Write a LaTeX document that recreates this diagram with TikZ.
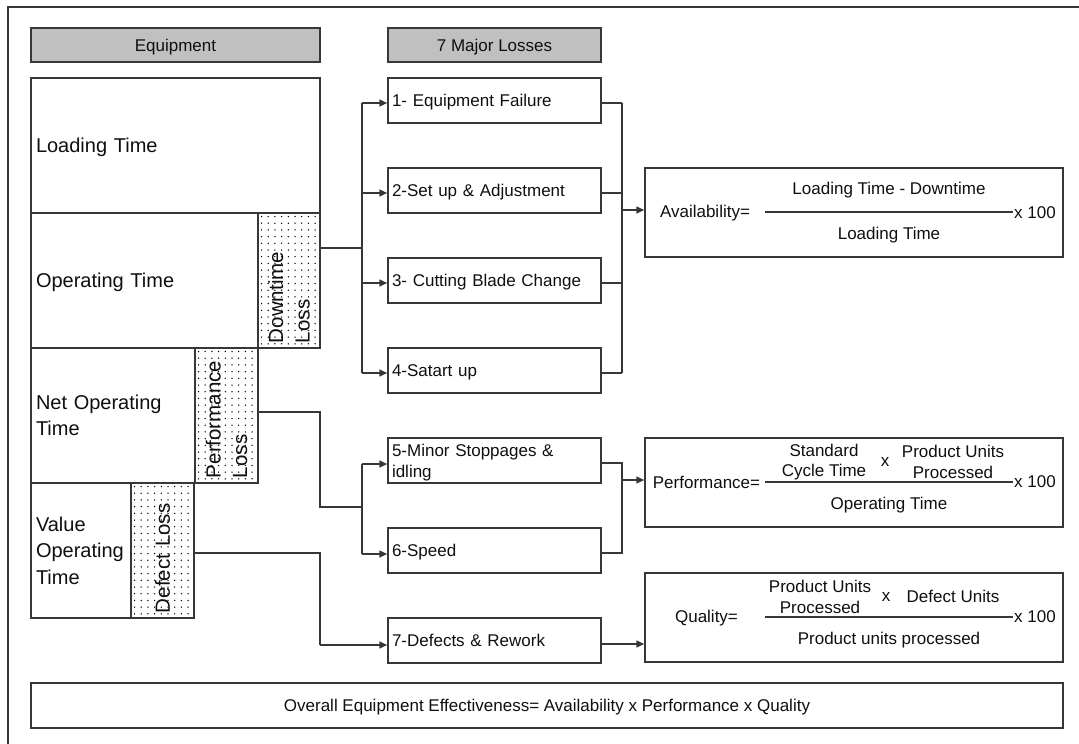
\documentclass[tikz,border=0pt]{standalone}
\usepackage{fontspec}
\setmainfont{Liberation Sans}
\usetikzlibrary{arrows.meta}
\definecolor{ln}{RGB}{55,55,55}
\definecolor{hdr}{RGB}{192,192,192}
\definecolor{txt}{RGB}{15,15,15}
\begin{document}
\begin{tikzpicture}[x=1pt,y=-1pt,
  every node/.style={text=txt},
  box/.style={draw=ln,line width=1.5pt,rectangle,inner xsep=5pt,inner ysep=0pt},
  big/.style={font=\fontsize{20}{26.5}\selectfont},
  small/.style={font=\fontsize{17}{20.5}\selectfont},
  oneline/.style={text depth=0pt},
  hdrbox/.style={box,small,oneline,fill=hdr,minimum height=34pt},
  eqbox/.style={box,big,align=left},
  lossbox/.style={box,small,align=left,inner xsep=4pt,minimum height=45pt,text width=205pt},
  rotbox/.style={box,align=left,rotate=90,inner xsep=5pt,minimum width=135pt,
    font=\fontsize{20.5}{26.5}\selectfont},
  fbox/.style={box,minimum width=418pt,minimum height=89pt},
  ftext/.style={small,align=center,inner sep=0pt},
  conn/.style={draw=ln,line width=1.5pt},
  arr/.style={conn,-{Triangle[length=8pt,width=7pt]}},
  dot/.style={fill=black}
]
\useasboundingbox (0,0) rectangle (1079,744);

% outer frame (only its left and top edges fall on the page)
\draw[conn] (8,744) -- (8,7) -- (1079,7);

% dotted fill of the loss strips
\foreach \x in {261.5,268.2,...,318} \foreach \y in {216.5,223.2,...,346}
  {\fill[dot] (\x,\y) circle (0.75);}
\foreach \x in {198.5,205.2,...,256} \foreach \y in {351.5,358.2,...,481}
  {\fill[dot] (\x,\y) circle (0.75);}
\foreach \x in {134.5,141.2,...,192} \foreach \y in {486.5,493.2,...,616}
  {\fill[dot] (\x,\y) circle (0.75);}

% column headers
\node[hdrbox,minimum width=289pt] (eqh) at (175.5,45) {Equipment};
\node[hdrbox,minimum width=213pt] (mlh) at (494.5,45) {7 Major Losses};

% equipment time blocks
\node[eqbox,oneline,text width=279pt,minimum height=135pt] (lt) at (175.5,145.5) {Loading Time};
\node[eqbox,oneline,text width=217pt,minimum height=135pt] (ot) at (144.5,280.5) {Operating Time};
\node[eqbox,text width=154pt,minimum height=135pt] (nt) at (113,415.5) {Net Operating\\Time};
\node[eqbox,text width=90pt,minimum height=135pt] (vt) at (81,550.5) {Value\\Operating\\Time};

% loss strips
\node[rotbox,text width=125pt,minimum height=62pt] (dt) at (289,280.5) {Downtime\\Loss};
\node[rotbox,text width=125pt,minimum height=63pt] (pl) at (226.5,415.5) {Performance\\Loss};
\node[rotbox,text width=125pt,minimum height=63pt] (dl) at (162.5,550.5) {Defect Loss};

% the seven major losses
\node[lossbox,oneline] (l1) at (494.5,100.5) {1- Equipment Failure};
\node[lossbox,oneline] (l2) at (494.5,190.5) {2-Set up \& Adjustment};
\node[lossbox,oneline] (l3) at (494.5,280.5) {3- Cutting Blade Change};
\node[lossbox,oneline] (l4) at (494.5,370.5) {4-Satart up};
\node[lossbox] (l5) at (494.5,460.5) {\rule{0pt}{17pt}5-Minor Stoppages \&\\idling};
\node[lossbox,oneline] (l6) at (494.5,550.5) {6-Speed};
\node[lossbox,oneline] (l7) at (494.5,640.5) {7-Defects \& Rework};

% formula boxes
\node[fbox] (av) at (854,212.5) {};
\node[fbox] (pf) at (854,482.5) {};
\node[fbox] (ql) at (854,617.5) {};

% availability
\node[ftext] (avlab) at (705,213) {Availability=};
\node[ftext] (avnum) at (889,190) {Loading Time - Downtime};
\node[ftext] (avden) at (889,235) {Loading Time};
\coordinate (avl) at (765,212);
\coordinate (avr) at (1013,212);
\draw[conn,line width=1.2pt] (avl) -- (avr);
\node[ftext,anchor=west] (avx) at (1014,213) {x 100};

% performance
\node[ftext] (pflab) at (706.5,482) {Performance=};
\node[ftext] (pfn1) at (824,462) {Standard\\Cycle Time};
\node[ftext] (pfx) at (885,462) {x};
\node[ftext] (pfn2) at (953,462) {Product Units\\Processed};
\node[ftext] (pfden) at (889,505) {Operating Time};
\coordinate (pfl) at (765,482);
\coordinate (pfr) at (1013,482);
\draw[conn,line width=1.2pt] (pfl) -- (pfr);
\node[ftext,anchor=west] (pfxh) at (1014,482) {x 100};

% quality
\node[ftext] (qllab) at (706.5,618) {Quality=};
\node[ftext] (qln1) at (820,597) {Product Units\\Processed};
\node[ftext] (qlx) at (886,597) {x};
\node[ftext] (qln2) at (953,596) {Defect Units};
\node[ftext] (qlden) at (889,640) {Product units processed};
\coordinate (qll) at (765,617);
\coordinate (qlr) at (1013,617);
\draw[conn,line width=1.2pt] (qll) -- (qlr);
\node[ftext,anchor=west] (qlxh) at (1014,617) {x 100};

% overall effectiveness
\node[box,small,oneline,minimum width=1032pt,minimum height=45pt] (oee) at (547,705.5)
  {Overall Equipment Effectiveness= Availability x Performance x Quality};

% downtime loss -> losses 1-4
\coordinate (ja) at (362,248);
\coordinate (a1) at (362,103);
\coordinate (a2) at (362,193);
\coordinate (a3) at (362,283);
\coordinate (a4) at (362,373);
\draw[conn] (dt.south |- ja) -- (ja);
\draw[conn] (a1) -- (a4);
\foreach \i in {1,2,3,4} {\draw[arr] (a\i) -- (a\i -| l\i.west);}

% losses 1-4 -> availability
\coordinate (b1) at (622,103);
\coordinate (b2) at (622,193);
\coordinate (b3) at (622,283);
\coordinate (b4) at (622,373);
\coordinate (bo) at (622,210);
\foreach \i in {1,2,3,4} {\draw[conn] (l\i.east |- b\i) -- (b\i);}
\draw[conn] (b1) -- (b4);
\draw[arr] (bo) -- (bo -| av.west);

% performance loss -> losses 5-6
\coordinate (pk1) at (320,412);
\coordinate (pk2) at (320,507);
\coordinate (jp) at (362,507);
\coordinate (a5) at (362,464);
\coordinate (a6) at (362,554);
\draw[conn] (pl.south |- pk1) -- (pk1) -- (pk2) -- (jp);
\draw[conn] (a5) -- (a6);
\draw[arr] (a5) -- (a5 -| l5.west);
\draw[arr] (a6) -- (a6 -| l6.west);

% losses 5-6 -> performance
\coordinate (b5) at (622,463);
\coordinate (b6) at (622,553);
\coordinate (bp) at (622,480);
\draw[conn] (l5.east |- b5) -- (b5) -- (b6) -- (b6 -| l6.east);
\draw[arr] (bp) -- (bp -| pf.west);

% defect loss -> loss 7 -> quality
\coordinate (dk1) at (320,553);
\coordinate (a7) at (320,645);
\draw[conn] (dl.south |- dk1) -- (dk1) -- (a7);
\draw[arr] (a7) -- (a7 -| l7.west);
\coordinate (b7) at (601,644);
\draw[arr] (l7.east |- b7) -- (b7 -| ql.west);
\end{tikzpicture}
\end{document}
